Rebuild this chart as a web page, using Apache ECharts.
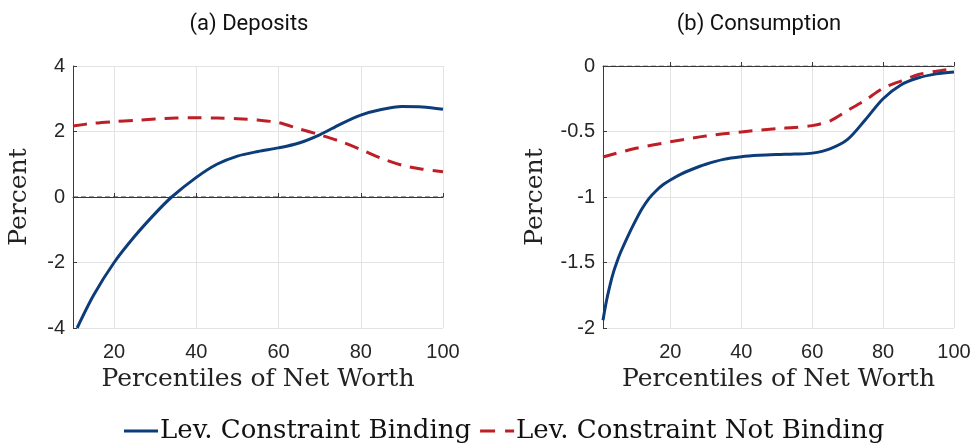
<!DOCTYPE html>
<html>
<head>
<meta charset="utf-8">
<script src="https://cdn.jsdelivr.net/npm/echarts@6/dist/echarts.min.js"></script>
<style>html,body{margin:0;padding:0;background:#fff}#c{width:976px;height:446px}</style>
</head>
<body>
<div id="c"></div>
<script>
// ---- Data ----
const seriesNames = ['Lev. Constraint Binding', 'Lev. Constraint Not Binding'];
const panelTitles = ['(a) Deposits', '(b) Consumption'];
const xTicks = [20, 40, 60, 80, 100];

const depBindX = [11, 15, 20, 25, 30, 34, 40, 45, 50, 55, 60, 65, 70, 75, 80, 85, 90, 95, 100];
const depBindY = [-4.0, -3.0, -2.0, -1.2, -0.5, 0.0, 0.6, 1.0, 1.25, 1.39, 1.5, 1.65, 1.9, 2.22, 2.5, 2.67, 2.76, 2.75, 2.68];
const depNotX = [10, 15, 20, 25, 30, 35, 40, 45, 50, 55, 60, 65, 70, 75, 80, 85, 90, 95, 100];
const depNotY = [2.17, 2.25, 2.3, 2.34, 2.38, 2.41, 2.42, 2.41, 2.39, 2.35, 2.27, 2.08, 1.9, 1.7, 1.45, 1.18, 0.97, 0.85, 0.77];

const conBindX = [1, 2, 3, 4, 5, 6, 8, 10, 12, 14, 16, 18, 20, 23, 26, 30, 35, 40, 45, 50, 55, 60, 65, 70, 75, 80, 85, 90, 95, 100];
const conBindY = [-1.94, -1.79, -1.67, -1.57, -1.49, -1.42, -1.30, -1.19, -1.09, -1.01, -0.952, -0.905, -0.87, -0.825, -0.79, -0.75, -0.713, -0.693, -0.682, -0.676, -0.672, -0.665, -0.632, -0.56, -0.41, -0.25, -0.145, -0.09, -0.06, -0.046];
const conNotX = [1, 10, 20, 30, 40, 50, 55, 60, 65, 70, 75, 80, 85, 90, 95, 100];
const conNotY = [-0.695, -0.63, -0.579, -0.535, -0.503, -0.478, -0.47, -0.455, -0.42, -0.34, -0.26, -0.17, -0.115, -0.065, -0.04, -0.02];

const zeroDep = [[10, 0], [100, 0]];
const zeroCon = [[1, 0], [100, 0]];

const pair = (xs, ys) => xs.map((x, i) => [x, ys[i]]);

const BLUE = '#0c3d7a';
const RED = '#bd1f26';
const AXIS = '#3a3a3a';
const sans = 'Liberation Sans';
const serif = 'DejaVu Serif';

function xAxis(gridIndex, min) {
  return {
    type: 'value', gridIndex, min, max: 100,
    name: 'Percentiles of Net Worth', nameLocation: 'middle', nameGap: 35,
    nameTextStyle: { fontFamily: serif, fontSize: 25, color: '#222' },
    axisLine: { show: true, lineStyle: { color: AXIS, width: 1 } },
    axisTick: { show: true, inside: true, length: 4, customValues: xTicks, lineStyle: { color: AXIS } },
    axisLabel: { customValues: xTicks, fontFamily: sans, fontSize: 20, color: '#262626', margin: 14 },
    splitLine: { show: true, lineStyle: { color: '#e3e3e3', width: 1 } }
  };
}
function yAxis(gridIndex, min, max, interval, gap) {
  return {
    type: 'value', gridIndex, min, max, interval,
    name: 'Percent', nameLocation: 'middle', nameGap: gap, nameRotate: 90,
    nameTextStyle: { fontFamily: serif, fontSize: 25, color: '#222' },
    axisLine: { show: true, onZero: false, lineStyle: { color: AXIS, width: 1 } },
    axisTick: { show: true, inside: true, length: 4, lineStyle: { color: AXIS } },
    axisLabel: { fontFamily: sans, fontSize: 20, color: '#262626', margin: 8 },
    splitLine: { show: true, lineStyle: { color: '#e3e3e3', width: 1 } }
  };
}
function line(name, idx, data, dashed) {
  return {
    name, type: 'line', xAxisIndex: idx, yAxisIndex: idx,
    data, smooth: 0.3, showSymbol: false, symbol: 'none',
    lineStyle: { color: dashed ? RED : BLUE, width: 3, type: dashed ? [14, 9] : 'solid' },
    itemStyle: { color: dashed ? RED : BLUE },
    z: dashed ? 3 : 4
  };
}
function zero(idx, data) {
  return {
    name: 'zero', type: 'line', xAxisIndex: idx, yAxisIndex: idx, data,
    showSymbol: false, symbol: 'none', silent: true, z: 2,
    lineStyle: { color: '#333', width: 1, type: [5, 3] }
  };
}

const chart = echarts.init(document.getElementById('c'), null, { renderer: 'canvas' });
chart.setOption({
  animation: false,
  backgroundColor: '#fff',
  title: [
    { text: panelTitles[0], left: 244, top: 8, textAlign: 'center', textStyle: { fontFamily: 'Roboto', fontSize: 22, fontWeight: 'normal', color: '#111' } },
    { text: panelTitles[1], left: 754, top: 8, textAlign: 'center', textStyle: { fontFamily: 'Roboto', fontSize: 22, fontWeight: 'normal', color: '#111' } }
  ],
  grid: [
    { left: 73, top: 66, width: 370, height: 262 },
    { left: 603, top: 66, width: 351, height: 262 }
  ],
  xAxis: [xAxis(0, 10), xAxis(1, 1)],
  yAxis: [yAxis(0, -4, 4, 2, 41), yAxis(1, -2, 0, 0.5, 55)],
  legend: {
    data: [
      { name: seriesNames[0], icon: 'path://M0,0H34V3H0Z' },
      { name: seriesNames[1], icon: 'path://M0,0H15V3H0Z M25,0H34V3H25Z' }
    ],
    left: 124, top: 418, padding: 0, itemWidth: 34, itemHeight: 3, itemGap: 9,
    textStyle: { fontFamily: serif, fontSize: 26, color: '#111', padding: [0, 0, 0, -3] }
  },
  series: [
    zero(0, zeroDep),
    zero(1, zeroCon),
    line(seriesNames[1], 0, pair(depNotX, depNotY), true),
    line(seriesNames[0], 0, pair(depBindX, depBindY), false),
    line(seriesNames[1], 1, pair(conNotX, conNotY), true),
    line(seriesNames[0], 1, pair(conBindX, conBindY), false)
  ]
});
</script>
</body>
</html>
